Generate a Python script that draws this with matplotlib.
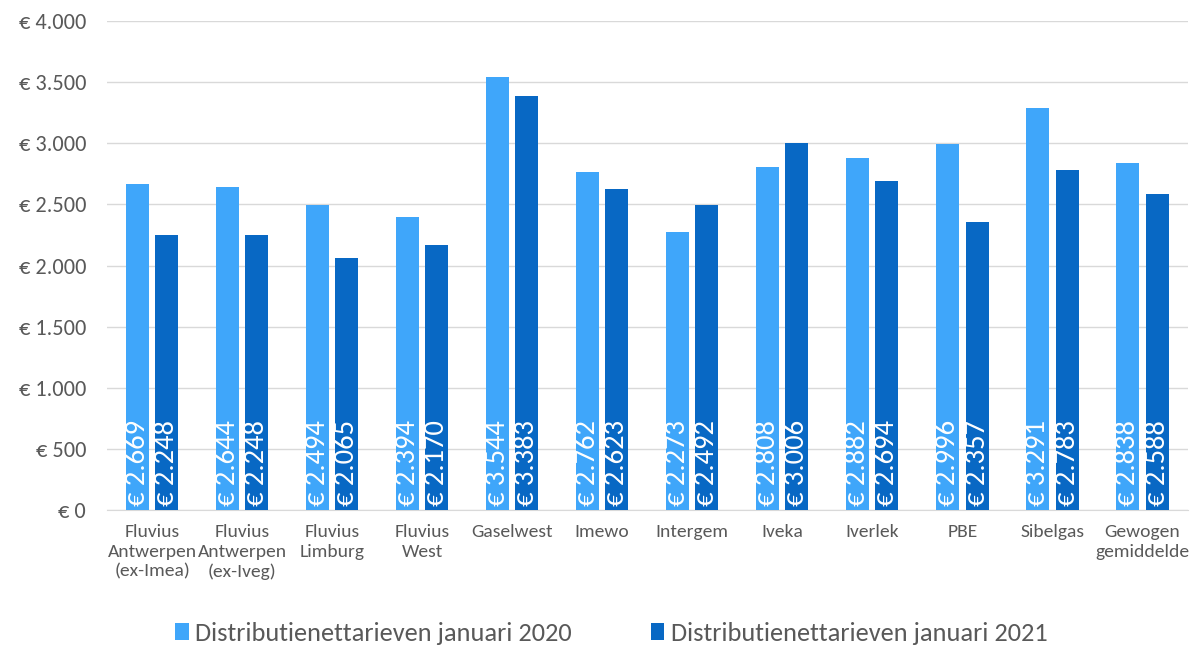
import numpy as np
import matplotlib
matplotlib.use("Agg")
import matplotlib.pyplot as plt
from matplotlib.ticker import FuncFormatter

plt.rcParams['font.family'] = ['Carlito', 'Liberation Sans Narrow', 'Liberation Sans', 'DejaVu Sans']

categories = ["Fluvius\nAntwerpen\n(ex-Imea)", "Fluvius\nAntwerpen\n(ex-Iveg)", "Fluvius\nLimburg",
              "Fluvius\nWest", "Gaselwest", "Imewo", "Intergem", "Iveka", "Iverlek", "PBE",
              "Sibelgas", "Gewogen\ngemiddelde"]
tarief_2020 = [2669, 2644, 2494, 2394, 3544, 2762, 2273, 2808, 2882, 2996, 3291, 2838]
tarief_2021 = [2248, 2248, 2065, 2170, 3383, 2623, 2492, 3006, 2694, 2357, 2783, 2588]
series_names = ["Distributienettarieven januari 2020", "Distributienettarieven januari 2021"]

light = "#3FA6FA"
dark = "#0868C4"


def euro(v):
    return "€ " + f"{int(round(v)):,}".replace(",", ".")


fig = plt.figure(figsize=(11.94, 6.46), dpi=100)
ax = fig.add_axes([0.0896, 0.2105, 0.905, 0.757])

x = np.arange(len(categories))
w = 0.255
off = 0.162
b1 = ax.bar(x - off, tarief_2020, w, color=light, label=series_names[0], zorder=3)
b2 = ax.bar(x + off, tarief_2021, w, color=dark, label=series_names[1], zorder=3)

# waarden verticaal in de staven
for bars in (b1, b2):
    for r in bars:
        ax.text(r.get_x() + r.get_width() / 2, 35, euro(r.get_height()), rotation=90,
                ha="center", va="bottom", color="white", fontsize=20.5, zorder=4)

ax.set_xlim(-0.5, len(categories) - 0.5)
ax.set_ylim(0, 4000)
ax.set_yticks(np.arange(0, 4001, 500))
ax.yaxis.set_major_formatter(FuncFormatter(lambda v, p: euro(v)))
ax.grid(axis="y", color="#D9D9D9", linewidth=1, zorder=0)
for s in ["top", "right", "left"]:
    ax.spines[s].set_visible(False)
ax.spines["bottom"].set_color("#D9D9D9")
ax.tick_params(axis="y", length=0, labelsize=16, labelcolor="#595959", pad=15)
ax.tick_params(axis="x", length=0, labelsize=14, labelcolor="#595959", pad=10)
ax.set_xticks(x)
ax.set_xticklabels(categories, linespacing=1.28)

fig.legend(handles=[b1, b2], loc="lower center", bbox_to_anchor=(0.512, -0.035), ncol=2,
           frameon=False, fontsize=19, labelcolor="#595959", handlelength=0.5,
           handleheight=0.6, handletextpad=0.25, columnspacing=3.0)

plt.savefig("out.png", dpi=100)
plt.close()
